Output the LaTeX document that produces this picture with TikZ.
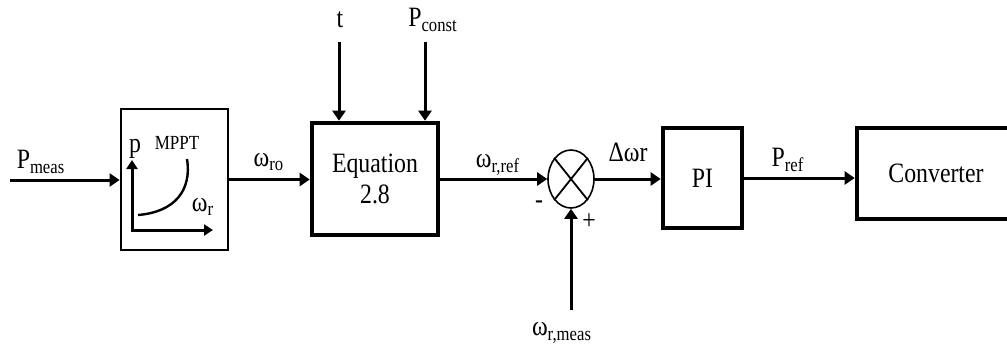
\documentclass[tikz,border=0pt]{standalone}
\usepackage{fontspec}
\setmainfont[FakeStretch=0.85]{Liberation Serif}
\usetikzlibrary{arrows.meta,shapes.geometric}
\begin{document}
\fontsize{14}{15.5}\selectfont
\begin{tikzpicture}[x=0.5pt,y=-0.5pt,
  sig/.style={line width=1.5pt,-{Triangle[length=5pt,width=6.5pt]}},
  blk/.style={draw,line width=2.3pt,inner sep=0pt,align=center}]
\useasboundingbox (0,0) rectangle (1007,345);
% blocks
\node[blk,line width=1.4pt,minimum width=53.5pt,minimum height=70.5pt] (mppt) at (174.5,179.5) {};
\node[blk,minimum width=63pt,minimum height=56pt] (eq) at (375,179) {Equation\\2.8};
\node[draw,ellipse,line width=0.8pt,minimum width=23pt,minimum height=29pt,inner sep=0pt] (sum) at (571,179) {};
\draw[line width=0.9pt] (sum.north west) -- (sum.south east) (sum.north east) -- (sum.south west);
\node[blk,minimum width=39.5pt,minimum height=50pt] (pi) at (702.5,178) {PI};
\node[blk,minimum width=79pt,minimum height=45.5pt] (conv) at (936,173.5) {Converter};
% free ends
\coordinate (pin) at (10,180);
\coordinate (tin) at (339,42);
\coordinate (cin) at (425,42);
\coordinate (win) at (571,310);
% signals
\draw[sig] (pin) -- (pin -| mppt.west);
\draw[sig] (mppt.east) -- (mppt.east -| eq.west);
\draw[sig] (tin) -- (tin |- eq.north);
\draw[sig] (cin) -- (cin |- eq.north);
\draw[sig] (eq.east) -- (sum.west);
\draw[sig] (win) -- (sum.south);
\draw[sig] (sum.east) -- (sum.east -| pi.west);
\draw[sig] (pi.east) -- (pi.east -| conv.west);
% MPPT curve
\coordinate (pax) at (132,160);
\coordinate (wax) at (213,230);
\draw[line width=1.5pt,{Triangle[length=4.5pt,width=5.5pt]}-{Triangle[length=4.5pt,width=5.5pt]}] (pax) |- (wax);
\draw[line width=1.2pt] (138,215) .. controls (175,212) and (192,190) .. (187,159);
\node (lp) at (135,149) {p};
\node[font=\fontsize{10}{12}\selectfont] (lmppt) at (177,143) {MPPT};
\node (lwr) at (203,207) {ω\textsubscript{r}};
% labels
\node (lpmeas) at (41,162) {P\textsubscript{meas}};
\node (lt) at (340,20) {t};
\node (lpc) at (433,20) {P\textsubscript{const}};
\node (lwro) at (269,162) {ω\textsubscript{ro}};
\node (lwref) at (498,165) {ω\textsubscript{r,ref}};
\node (ldw) at (628,152) {Δωr};
\node (lpref) at (788,160) {P\textsubscript{ref}};
\node (lwmeas) at (562,333) {ω\textsubscript{r,meas}};
\node (lminus) at (539,205) {-};
\node (lplus) at (589,222) {+};
\end{tikzpicture}
\end{document}
